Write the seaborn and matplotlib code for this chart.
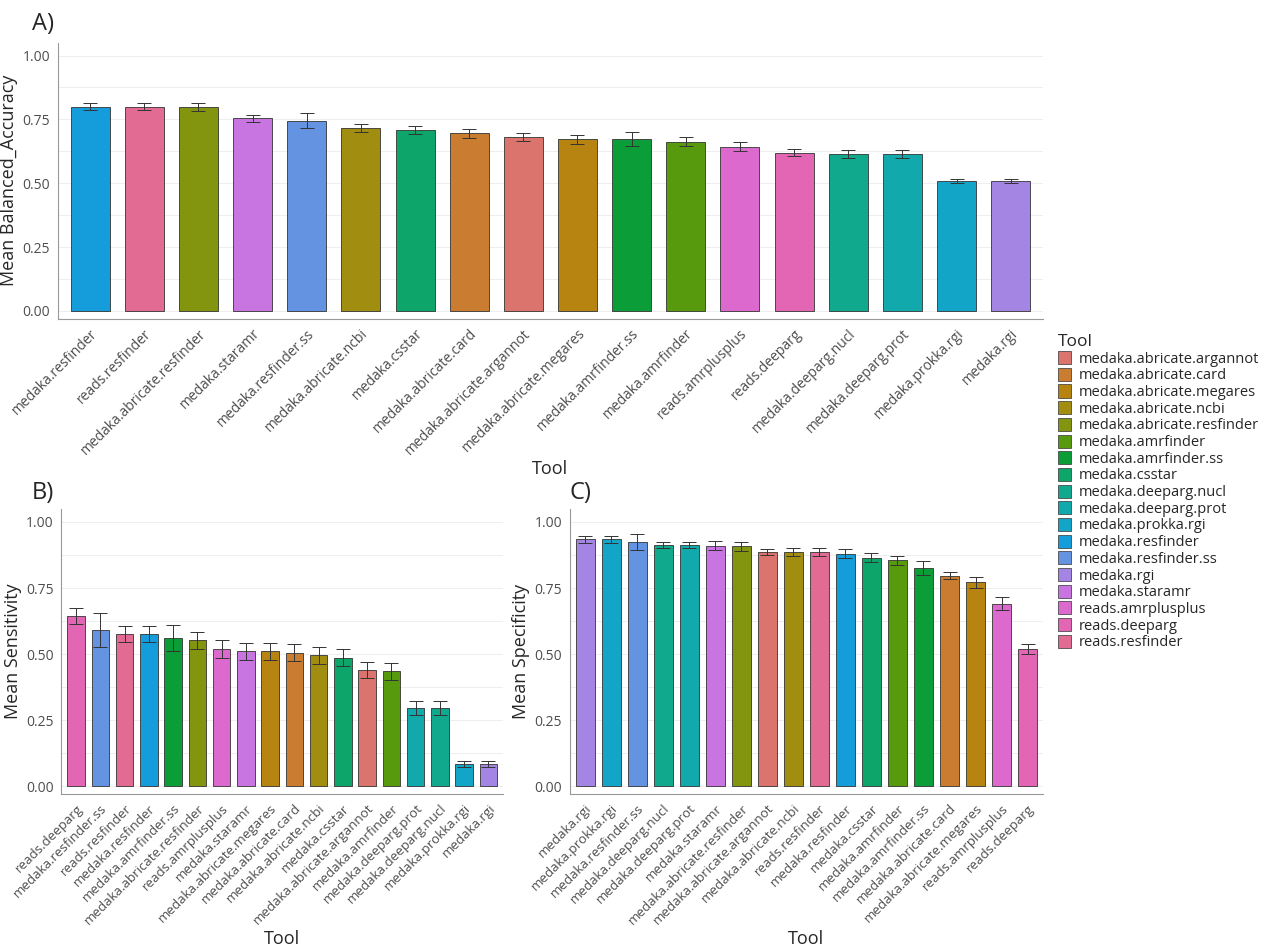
import numpy as np
import matplotlib
matplotlib.use("Agg")
import matplotlib.pyplot as plt
import seaborn as sns
import pandas as pd
from matplotlib.patches import Patch

sns.set_style("white")
plt.rcParams['font.family'] = ['Open Sans', 'DejaVu Sans']

tools_all = ["medaka.abricate.argannot","medaka.abricate.card","medaka.abricate.megares",
 "medaka.abricate.ncbi","medaka.abricate.resfinder","medaka.amrfinder","medaka.amrfinder.ss",
 "medaka.csstar","medaka.deeparg.nucl","medaka.deeparg.prot","medaka.prokka.rgi",
 "medaka.resfinder","medaka.resfinder.ss","medaka.rgi","medaka.staramr",
 "reads.amrplusplus","reads.deeparg","reads.resfinder"]

a_tools = ["medaka.resfinder","reads.resfinder","medaka.abricate.resfinder","medaka.staramr",
 "medaka.resfinder.ss","medaka.abricate.ncbi","medaka.csstar","medaka.abricate.card",
 "medaka.abricate.argannot","medaka.abricate.megares","medaka.amrfinder.ss","medaka.amrfinder",
 "reads.amrplusplus","reads.deeparg","medaka.deeparg.nucl","medaka.deeparg.prot",
 "medaka.prokka.rgi","medaka.rgi"]
a_vals = [0.80,0.80,0.798,0.755,0.745,0.715,0.708,0.695,0.68,0.672,0.672,0.663,0.643,0.62,0.613,0.613,0.51,0.51]
a_err = [0.015,0.015,0.015,0.014,0.03,0.016,0.015,0.017,0.016,0.018,0.028,0.019,0.018,0.015,0.016,0.016,0.008,0.008]

b_tools = ["reads.deeparg","medaka.resfinder.ss","reads.resfinder","medaka.resfinder",
 "medaka.amrfinder.ss","medaka.abricate.resfinder","reads.amrplusplus","medaka.staramr",
 "medaka.abricate.megares","medaka.abricate.card","medaka.abricate.ncbi","medaka.csstar",
 "medaka.abricate.argannot","medaka.amrfinder","medaka.deeparg.prot","medaka.deeparg.nucl",
 "medaka.prokka.rgi","medaka.rgi"]
b_vals = [0.645,0.59,0.575,0.575,0.56,0.553,0.52,0.51,0.51,0.505,0.495,0.487,0.44,0.435,0.295,0.295,0.085,0.085]
b_err = [0.03,0.065,0.03,0.03,0.05,0.032,0.033,0.032,0.033,0.032,0.033,0.033,0.03,0.032,0.027,0.027,0.012,0.012]

c_tools = ["medaka.rgi","medaka.prokka.rgi","medaka.resfinder.ss","medaka.deeparg.nucl",
 "medaka.deeparg.prot","medaka.staramr","medaka.abricate.resfinder","medaka.abricate.argannot",
 "medaka.abricate.ncbi","reads.resfinder","medaka.resfinder","medaka.csstar","medaka.amrfinder",
 "medaka.amrfinder.ss","medaka.abricate.card","medaka.abricate.megares","reads.amrplusplus","reads.deeparg"]
c_vals = [0.935,0.935,0.925,0.912,0.912,0.91,0.908,0.887,0.885,0.885,0.88,0.865,0.855,0.825,0.797,0.772,0.69,0.52]
c_err = [0.013,0.013,0.03,0.012,0.012,0.017,0.016,0.012,0.015,0.015,0.017,0.017,0.017,0.027,0.013,0.02,0.025,0.02]

def hcl(h, c=100, l=65):
    hr = np.deg2rad(h)
    u, v = c*np.cos(hr), c*np.sin(hr)
    Y = ((l+16)/116)**3
    un, vn = 0.1978, 0.4683
    up = u/(13*l)+un; vp = v/(13*l)+vn
    X = Y*9*up/(4*vp); Z = Y*(12-3*up-20*vp)/(4*vp)
    M = np.array([[3.2406,-1.5372,-0.4986],[-0.9689,1.8758,0.0415],[0.0557,-0.2040,1.0570]])
    rgb = M @ np.array([X, Y, Z])
    rgb = np.where(rgb <= 0.0031308, 12.92*rgb, 1.055*np.clip(rgb,0,None)**(1/2.4)-0.055)
    rgb = np.clip(rgb, 0, 1)
    grey = rgb.mean()
    rgb = 0.85*rgb + 0.15*grey
    rgb = rgb*0.93
    return tuple(np.clip(rgb, 0, 1))

hues = np.linspace(15, 375, len(tools_all)+1)[:-1]
pal = {t: hcl(h) for t, h in zip(tools_all, hues)}

fig = plt.figure(figsize=(12.8, 9.51), dpi=100)
axA = fig.add_axes([0.045, 0.665, 0.77, 0.29])
axB = fig.add_axes([0.048, 0.165, 0.345, 0.3])
axC = fig.add_axes([0.445, 0.165, 0.37, 0.3])

def panel(ax, tools, vals, errs, ylabel, letter, lx, ly, fs):
    df = pd.DataFrame({"Tool": tools, "v": vals})
    sns.barplot(data=df, x="Tool", y="v", hue="Tool", palette=pal, order=tools,
                legend=False, ax=ax, width=0.72, edgecolor="#333333", linewidth=0.6, saturation=1)
    ax.errorbar(np.arange(len(tools)), vals, yerr=errs, fmt="none", ecolor="#333333",
                elinewidth=0.7, capsize=5, capthick=0.7)
    ax.set_ylim(-0.03, 1.05)
    ax.set_xlim(-0.6, len(tools)-0.4)
    ax.set_yticks([0, 0.25, 0.5, 0.75, 1.0])
    ax.set_yticklabels(["0.00","0.25","0.50","0.75","1.00"], color="#4d4d4d", fontsize=10)
    for y in np.arange(0, 1.01, 0.125):
        ax.axhline(y, color="#ebebeb", lw=0.6, zorder=0)
    ax.set_xticks(np.arange(len(tools)))
    ax.set_xticklabels(tools, rotation=45, ha="right", rotation_mode="anchor",
                       color="#4d4d4d", fontsize=fs)
    ax.set_ylabel(ylabel, fontsize=13, labelpad=3)
    ax.set_xlabel("Tool", fontsize=13, labelpad=2)
    for s in ["top", "right"]:
        ax.spines[s].set_visible(False)
    for s in ["left", "bottom"]:
        ax.spines[s].set_color("#999999"); ax.spines[s].set_linewidth(0.8)
    ax.tick_params(axis="both", pad=2)
    fig.text(lx, ly, letter, fontsize=17)

panel(axA, a_tools, a_vals, a_err, "Mean Balanced_Accuracy", "A)", 0.025, 0.968, 10)
panel(axB, b_tools, b_vals, b_err, "Mean Sensitivity", "B)", 0.025, 0.475, 9.5)
panel(axC, c_tools, c_vals, c_err, "Mean Specificity", "C)", 0.445, 0.475, 9.5)

handles = [Patch(facecolor=pal[t], edgecolor="#333333", linewidth=0.5) for t in tools_all]
fig.legend(handles, tools_all, title="Tool", loc="upper left", bbox_to_anchor=(0.822, 0.655),
           frameon=False, fontsize=10.5, title_fontsize=12.5, handlelength=0.9, handleheight=1.0,
           labelspacing=0.08, handletextpad=0.5, alignment="left", borderaxespad=0)
fig.savefig("out.png", dpi=100)
